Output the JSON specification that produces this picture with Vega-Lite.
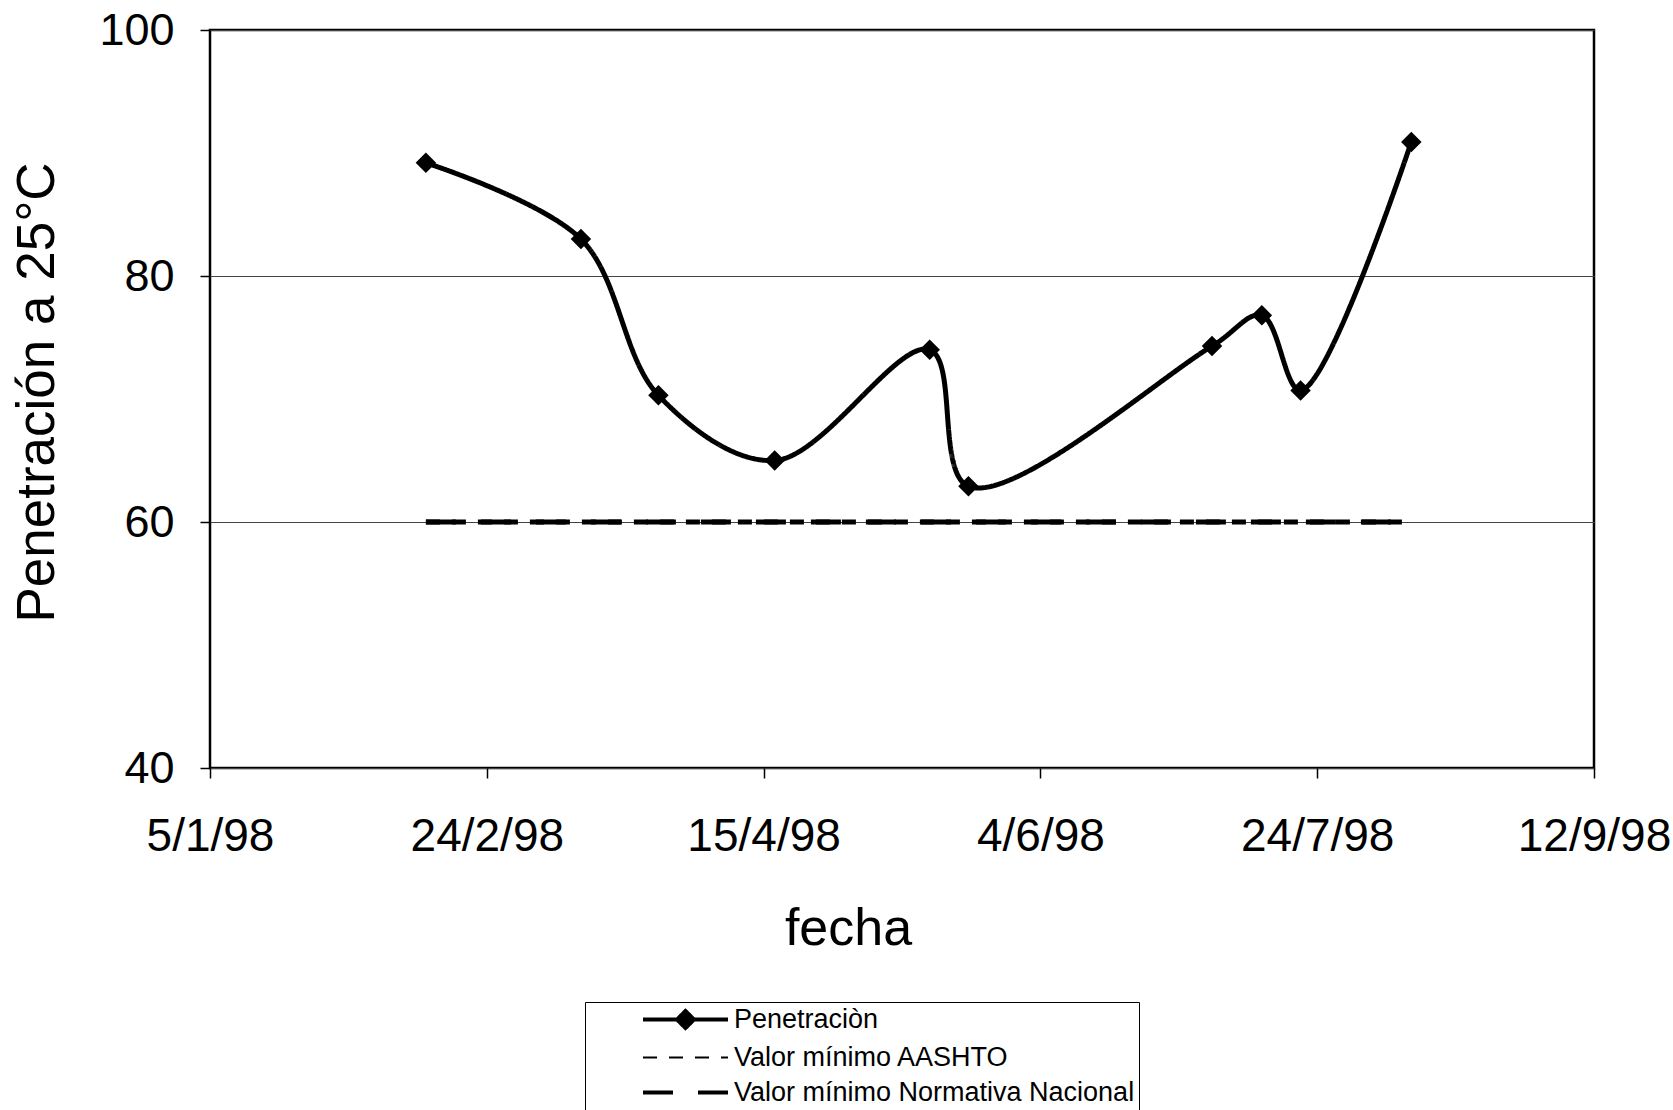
{
  "$schema": "https://vega.github.io/schema/vega-lite/v6.json",
  "width": 1384,
  "height": 738,
  "autosize": {"type": "none"},
  "padding": {"left": 210, "top": 30, "right": 79, "bottom": 342},
  "background": "white",
  "config": {
    "font": "Liberation Sans",
    "view": {"stroke": "black", "strokeWidth": 2.5},
    "axis": {"labelFont": "Liberation Sans", "titleFont": "Liberation Sans", "labelColor": "black", "titleColor": "black", "titleFontWeight": "normal", "tickColor": "black", "tickWidth": 1.5, "tickSize": 10, "domain": false}
  },
  "data": {
    "values": [
      {"fecha": "1998/02/13", "valor": 89.2, "serie": "Penetraciòn"},
      {"fecha": "1998/03/13", "valor": 83.0, "serie": "Penetraciòn"},
      {"fecha": "1998/03/27", "valor": 70.3, "serie": "Penetraciòn"},
      {"fecha": "1998/04/17", "valor": 65.0, "serie": "Penetraciòn"},
      {"fecha": "1998/05/15", "valor": 74.0, "serie": "Penetraciòn"},
      {"fecha": "1998/05/22", "valor": 62.9, "serie": "Penetraciòn"},
      {"fecha": "1998/07/05", "valor": 74.3, "serie": "Penetraciòn"},
      {"fecha": "1998/07/14", "valor": 76.8, "serie": "Penetraciòn"},
      {"fecha": "1998/07/21", "valor": 70.7, "serie": "Penetraciòn"},
      {"fecha": "1998/08/10", "valor": 90.9, "serie": "Penetraciòn"},
      {"fecha": "1998/02/13", "valor": 60, "serie": "Valor mínimo AASHTO"},
      {"fecha": "1998/08/10", "valor": 60, "serie": "Valor mínimo AASHTO"},
      {"fecha": "1998/02/13", "valor": 60, "serie": "Valor mínimo Normativa Nacional"},
      {"fecha": "1998/08/10", "valor": 60, "serie": "Valor mínimo Normativa Nacional"}
    ]
  },
  "encoding": {
    "x": {
      "field": "fecha", "type": "temporal",
      "scale": {"domain": [{"year": 1998, "month": 1, "date": 5}, {"year": 1998, "month": 9, "date": 12}]},
      "axis": {
        "values": [
          {"year": 1998, "month": 1, "date": 5},
          {"year": 1998, "month": 2, "date": 24},
          {"year": 1998, "month": 4, "date": 15},
          {"year": 1998, "month": 6, "date": 4},
          {"year": 1998, "month": 7, "date": 24},
          {"year": 1998, "month": 9, "date": 12}
        ],
        "format": "%-d/%-m/%y", "grid": false, "labelFontSize": 46, "labelPadding": 36,
        "labelFlush": false, "labelOverlap": false,
        "title": "fecha", "titleFontSize": 52, "titleX": 638, "titleY": 176, "titleAlign": "center", "titleBaseline": "alphabetic"
      }
    },
    "y": {
      "field": "valor", "type": "quantitative",
      "scale": {"domain": [40, 100], "nice": false, "zero": false},
      "axis": {
        "values": [40, 60, 80, 100], "grid": true, "gridColor": "#444444", "gridWidth": 1,
        "labelFontSize": 45, "labelPadding": 26,
        "title": "Penetración a 25°C", "titleFontSize": 53, "titleAngle": -90, "titleX": -173, "titleY": 362, "titleAlign": "center", "titleBaseline": "middle"
      }
    }
  },
  "layer": [
    {
      "mark": {"type": "line", "interpolate": "catmull-rom", "color": "black", "strokeWidth": 5},
      "encoding": {
        "strokeDash": {
          "field": "serie", "type": "nominal",
          "scale": {"domain": ["Penetraciòn", "Valor mínimo AASHTO", "Valor mínimo Normativa Nacional"], "range": [[1, 0], [14, 12], [30, 25]]},
          "legend": {
            "title": null, "orient": "none", "legendX": 375, "legendY": 972,
            "direction": "vertical",
            "strokeColor": "black", "fillColor": "white", "padding": 4,
            "symbolType": "circle", "symbolSize": 400, "symbolStrokeWidth": 4, "symbolStrokeColor": "black",
            "symbolOffset": 83,
            "labelFont": "Liberation Sans", "labelFontSize": 27, "labelColor": "black", "labelOffset": 35, "labelLimit": 700,
            "rowPadding": 7,
            "encode": {
              "symbols": {
                "update": {
                  "shape": {"signal": "datum.value === 'Penetraciòn' ? 'M-4.25,0H4.25M-0.85,0L0,-0.85L0.85,0L0,0.85Z' : 'M-4.25,0H4.25'"},
                  "fill": {"signal": "datum.value === 'Penetraciòn' ? 'black' : 'transparent'"},
                  "stroke": {"value": "black"},
                  "strokeWidth": {"signal": "datum.value === 'Valor mínimo AASHTO' ? 2 : 4"}
                }
              }
            }
          }
        },
        "detail": {"field": "serie"}
      }
    },
    {
      "transform": [{"filter": "datum.serie === 'Penetraciòn'"}],
      "mark": {"type": "point", "shape": "diamond", "filled": true, "color": "black", "size": 420, "opacity": 1}
    }
  ]
}
